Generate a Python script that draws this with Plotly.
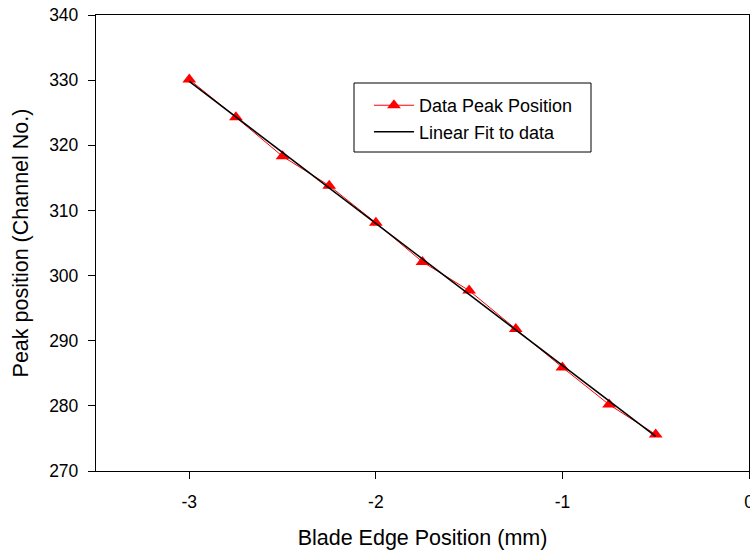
import plotly.graph_objects as go

x_data = [-3.0, -2.75, -2.5, -2.25, -2.0, -1.75, -1.5, -1.25, -1.0, -0.75, -0.5]
y_data = [330.1, 324.3, 318.3, 313.8, 308.1, 302.1, 297.7, 291.8, 285.9, 280.2, 275.6]
x_fit = [-3.0, -0.5]
y_fit = [329.8, 275.3]
x_ticks = [-3, -2, -1, 0]
y_ticks = [270, 280, 290, 300, 310, 320, 330, 340]

FONT = "Liberation Sans, Arial, sans-serif"

fig = go.Figure()
fig.add_trace(go.Scatter(
    x=x_data, y=y_data, mode="lines+markers", name="Data Peak Position",
    line=dict(color="#ff0000", width=1),
    marker=dict(symbol="triangle-up", size=12, color="#ff0000"),
))
fig.add_trace(go.Scatter(
    x=x_fit, y=y_fit, mode="lines", name="Linear Fit to data",
    line=dict(color="black", width=1.5),
))

fig.update_layout(
    width=750, height=551,
    margin=dict(l=96, r=1, t=15, b=80),
    paper_bgcolor="white", plot_bgcolor="white",
    font=dict(family=FONT, size=17, color="black"),
    showlegend=True,
    legend=dict(x=0.418, y=0.842, xanchor="left", yanchor="top",
                bgcolor="rgba(0,0,0,0)", borderwidth=0,
                font=dict(family=FONT, size=18, color="black"),
                itemwidth=40, tracegroupgap=0),
    shapes=[dict(type="rect", xref="paper", yref="paper",
                 x0=(354 - 96) / 653, x1=(591 - 96) / 653,
                 y0=(471 - 152) / 456, y1=(471 - 83) / 456,
                 line=dict(color="black", width=1), fillcolor="rgba(0,0,0,0)",
                 layer="below")],
)
fig.update_xaxes(
    range=[-3.5, 0], tickvals=x_ticks, ticktext=[str(v) for v in x_ticks],
    showgrid=False, zeroline=False, showline=True, linecolor="black", linewidth=1.3,
    mirror=True, ticks="outside", ticklen=7, tickcolor="black", tickwidth=1,
    tickfont=dict(size=17.5), ticklabelstandoff=8, ticklabeloverflow="allow",
    automargin=False,
    title=dict(text="Blade Edge Position (mm)", font=dict(size=21.5), standoff=18),
)
fig.update_yaxes(
    range=[270, 340], tickvals=y_ticks, ticktext=[str(v) for v in y_ticks],
    showgrid=False, zeroline=False, showline=True, linecolor="black", linewidth=1.3,
    mirror=True, ticks="outside", ticklen=7, tickcolor="black", tickwidth=1,
    tickfont=dict(size=17.5), ticklabelstandoff=6, ticklabeloverflow="allow",
    automargin=False,
    title=dict(text="Peak position (Channel No.)", font=dict(size=21.5), standoff=14),
)

fig.write_html("out.html")
